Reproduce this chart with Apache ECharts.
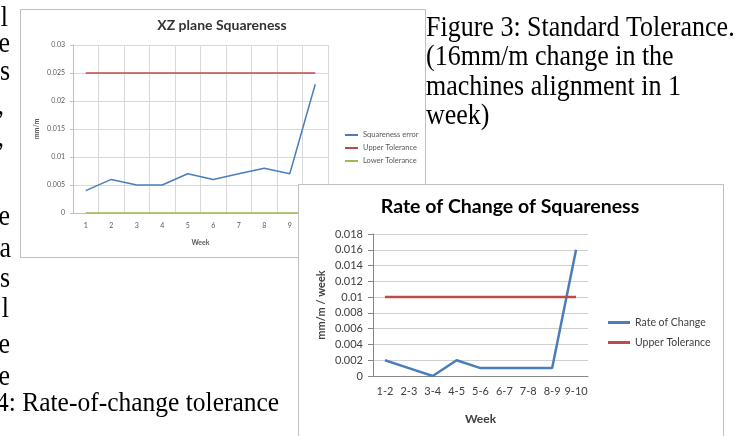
<!DOCTYPE html>
<html><head><meta charset="utf-8">
<script src="https://cdn.jsdelivr.net/npm/echarts@6/dist/echarts.min.js"></script>
<style>html,body{margin:0;padding:0;background:#fff;overflow:hidden}#c{width:739px;height:436px}</style>
</head><body><div id="c"></div>
<script>
// ---- Chart 1: XZ plane Squareness ----
const weeks = ['1','2','3','4','5','6','7','8','9','10'];
const squarenessError = [0.004,0.006,0.005,0.005,0.007,0.006,0.007,0.008,0.007,0.023];
const upperTolerance1 = [0.025,0.025,0.025,0.025,0.025,0.025,0.025,0.025,0.025,0.025];
const lowerTolerance1 = [0,0,0,0,0,0,0,0,0,0];
// ---- Chart 2: Rate of Change of Squareness ----
const weekPairs = ['1-2','2-3','3-4','4-5','5-6','6-7','7-8','8-9','9-10'];
const rateOfChange = [0.002,0.001,0,0.002,0.001,0.001,0.001,0.001,0.016];
const upperTolerance2 = [0.01,0.01,0.01,0.01,0.01,0.01,0.01,0.01,0.01];
// ---- Surrounding document text ----
const figureCaption = ['Figure 3: Standard Tolerance.','(16mm/m change in the','machines alignment in 1','week)'];
const bottomCaption = '4: Rate-of-change tolerance';
const leftFragments = ['l','e','s',',',',','e','a','s','l','e','e'];
const leftFragY = [18,44,72,106,138,217,249,279,309,345,377];
const leftFragX = [8,10,10,4,4,10,11,10,9,10,10];

const BLUE='#4a7ebb', RED='#be4b48', GREEN='#98b954';
const FONT='Lato';
const SERIF='Liberation Serif';

const chart = echarts.init(document.getElementById('c'), null, {renderer:'canvas'});

const graphicEls = [
  {type:'rect', z:0, shape:{x:20.5,y:9.5,width:405,height:248}, style:{fill:'#fff',stroke:'#bfbfbf',lineWidth:1}},
  {type:'text', z:3, x:222, y:25, style:{text:'XZ plane Squareness', font:'bold 14px '+FONT, fill:'#333', textAlign:'center', textVerticalAlign:'middle'}},
  {type:'rect', z:5, shape:{x:298.5,y:184.5,width:425,height:270}, style:{fill:'#fff',stroke:'#bfbfbf',lineWidth:1}},
  {type:'text', z:12, x:510, y:207, style:{text:'Rate of Change of Squareness', font:'bold 19.5px '+FONT, fill:'#000', textAlign:'center', textVerticalAlign:'middle'}}
];
figureCaption.forEach((t,i)=>{
  graphicEls.push({type:'text', z:3, x:426, y:[28,57.5,87,116.5][i], scaleY:1.1,
    style:{text:t, font:'26px "'+SERIF+'"', fill:'#000', textAlign:'left', textVerticalAlign:'middle'}});
});
leftFragments.forEach((t,i)=>{
  graphicEls.push({type:'text', z:3, x:leftFragX[i], y:leftFragY[i], scaleY:1.1,
    style:{text:t, font:'26px "'+SERIF+'"', fill:'#000', textAlign:'right', textVerticalAlign:'middle'}});
});
graphicEls.push({type:'text', z:3, x:-4, y:404, scaleY:1.1,
  style:{text:bottomCaption, font:'25.5px "'+SERIF+'"', fill:'#000', textAlign:'left', textVerticalAlign:'middle'}});

const fmt = v => String(Number(v.toFixed(3)));

const option = {
  animation:false,
  backgroundColor:'#fff',
  textStyle:{fontFamily:FONT},
  graphic:{elements:graphicEls},
  grid:[
    {left:73, top:45, width:255, height:168, z:1},
    {left:373, top:234, width:215, height:142, z:10}
  ],
  legend:[
    {orient:'vertical', left:340, top:126, z:1, itemWidth:13, itemHeight:2, itemGap:5, icon:'rect',
     textStyle:{fontSize:7.5, color:'#595959', fontFamily:FONT},
     data:['Squareness error','Upper Tolerance ','Lower Tolerance']},
    {orient:'vertical', left:603, top:312, z:10, itemWidth:22, itemHeight:3, itemGap:9, icon:'rect',
     textStyle:{fontSize:10.5, color:'#404040', fontFamily:FONT},
     data:['Rate of Change','Upper Tolerance']}
  ],
  xAxis:[
    {type:'category', gridIndex:0, data:weeks, boundaryGap:true, z:1,
     axisLine:{lineStyle:{color:'#bfbfbf'}}, axisTick:{length:3, lineStyle:{color:'#bfbfbf'}},
     axisLabel:{fontSize:7, color:'#595959', margin:9},
     splitLine:{show:true, lineStyle:{color:'#d9d9d9'}},
     name:'Week', nameLocation:'middle', nameGap:26,
     nameTextStyle:{fontSize:7, fontWeight:'bold', color:'#595959'}},
    {type:'category', gridIndex:1, data:weekPairs, boundaryGap:true, z:10,
     axisLine:{lineStyle:{color:'#868686'}}, axisTick:{length:5, lineStyle:{color:'#868686'}},
     axisLabel:{fontSize:11, color:'#404040', margin:10, interval:0},
     splitLine:{show:false},
     name:'Week', nameLocation:'middle', nameGap:37,
     nameTextStyle:{fontSize:12, fontWeight:'bold', color:'#404040'}}
  ],
  yAxis:[
    {type:'value', gridIndex:0, min:0, max:0.03, interval:0.005, z:1,
     axisLine:{show:true, lineStyle:{color:'#bfbfbf'}}, axisTick:{show:true, length:3, lineStyle:{color:'#bfbfbf'}},
     axisLabel:{fontSize:7, color:'#595959', margin:8, formatter:fmt},
     splitLine:{show:true, lineStyle:{color:'#d9d9d9'}},
     name:'mm/m', nameLocation:'middle', nameGap:33, nameRotate:90,
     nameTextStyle:{fontSize:7, fontWeight:'bold', color:'#595959'}},
    {type:'value', gridIndex:1, min:0, max:0.018, interval:0.002, z:10,
     axisLine:{show:true, lineStyle:{color:'#868686'}}, axisTick:{show:true, length:5, lineStyle:{color:'#868686'}},
     axisLabel:{fontSize:11, color:'#404040', margin:10, formatter:fmt},
     splitLine:{show:true, lineStyle:{color:'#d0d0d0'}},
     name:'mm/m / week', nameLocation:'middle', nameGap:46, nameRotate:90,
     nameTextStyle:{fontSize:11, fontWeight:'bold', color:'#404040'}}
  ],
  series:[
    {name:'Squareness error', type:'line', xAxisIndex:0, yAxisIndex:0, data:squarenessError, z:2,
     showSymbol:false, color:BLUE, lineStyle:{width:1.5, color:BLUE}},
    {name:'Upper Tolerance ', type:'line', xAxisIndex:0, yAxisIndex:0, data:upperTolerance1, z:2,
     showSymbol:false, color:RED, lineStyle:{width:1.5, color:RED}},
    {name:'Lower Tolerance', type:'line', xAxisIndex:0, yAxisIndex:0, data:lowerTolerance1, z:2,
     showSymbol:false, color:GREEN, lineStyle:{width:1.5, color:GREEN}},
    {name:'Rate of Change', type:'line', xAxisIndex:1, yAxisIndex:1, data:rateOfChange, z:11,
     showSymbol:false, color:BLUE, lineStyle:{width:2.5, color:BLUE}},
    {name:'Upper Tolerance', type:'line', xAxisIndex:1, yAxisIndex:1, data:upperTolerance2, z:11,
     showSymbol:false, color:RED, lineStyle:{width:2.5, color:RED}}
  ]
};
chart.setOption(option);
</script>
</body></html>
